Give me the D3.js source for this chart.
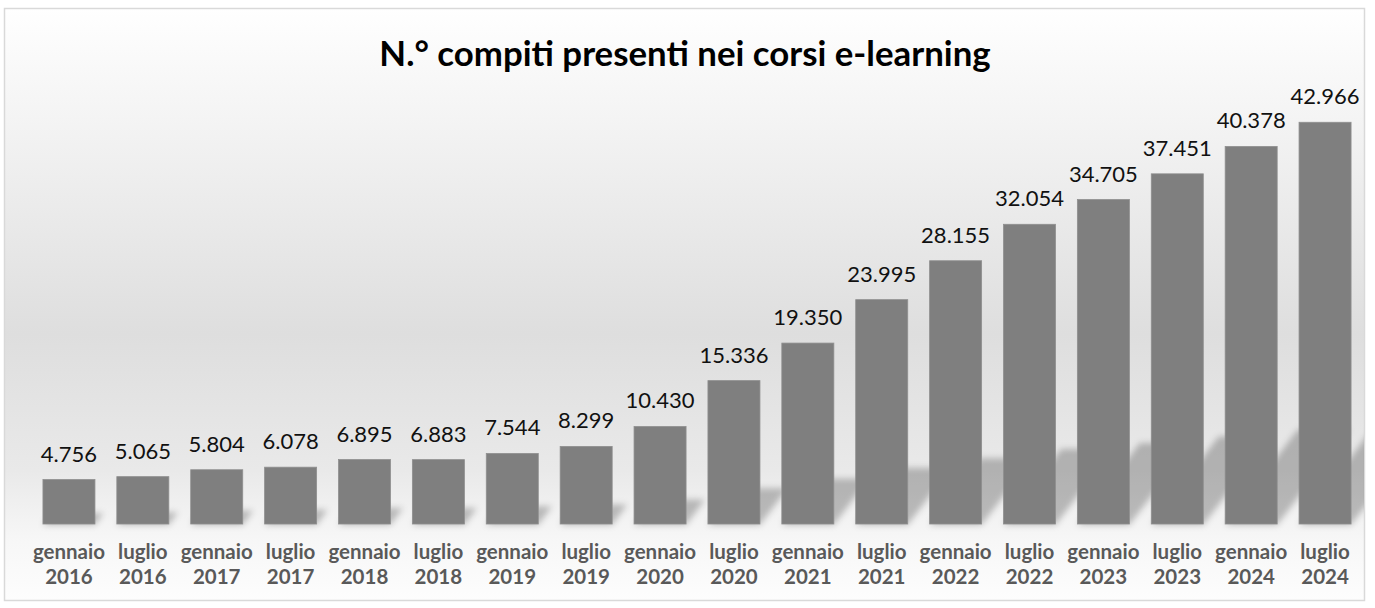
<!DOCTYPE html>
<html>
<head>
<meta charset="utf-8">
<script src="https://cdn.jsdelivr.net/npm/d3@7"></script>
<style>
  body { margin: 0; background: #fff; }
  svg { display: block; font-family: Lato, "Open Sans", sans-serif; }
</style>
</head>
<body>
<div id="chart"></div>
<script>
// data
const months = ["gennaio", "luglio", "gennaio", "luglio", "gennaio", "luglio", "gennaio", "luglio", "gennaio",
	"luglio", "gennaio", "luglio", "gennaio", "luglio", "gennaio", "luglio", "gennaio", "luglio"];
const years = ["2016", "2016", "2017", "2017", "2018", "2018", "2019", "2019", "2020",
	"2020", "2021", "2021", "2022", "2022", "2023", "2023", "2024", "2024"];
const values = [4756, 5065, 5804, 6078, 6895, 6883, 7544, 8299, 10430,
	15336, 19350, 23995, 28155, 32054, 34705, 37451, 40378, 42966];
const title = "N.° compiti presenti nei corsi e-learning";

const data = values.map((v, i) => ({ key: months[i] + " " + years[i], month: months[i], year: years[i], value: v }));

const width = 1375, height = 608;
const fmt = d3.formatLocale({ decimal: ",", thousands: ".", grouping: [3] }).format(",d");

const svg = d3.select("#chart").append("svg")
	.attr("width", width)
	.attr("height", height);

const defs = svg.append("defs");

// background gradient of the chart area
const grad = defs.append("linearGradient")
	.attr("id", "bg")
	.attr("x1", 0).attr("y1", 0).attr("x2", 0).attr("y2", 1);
grad.append("stop").attr("offset", "0%").attr("stop-color", "#ffffff");
grad.append("stop").attr("offset", "55%").attr("stop-color", "#dedede");
grad.append("stop").attr("offset", "78%").attr("stop-color", "#e9e9e9");
grad.append("stop").attr("offset", "90%").attr("stop-color", "#f7f7f7");
grad.append("stop").attr("offset", "100%").attr("stop-color", "#fdfdfd");

defs.append("filter")
	.attr("id", "blur")
	.attr("x", "-50%").attr("y", "-50%").attr("width", "200%").attr("height", "200%")
	.append("feGaussianBlur")
	.attr("stdDeviation", 3);

defs.append("clipPath")
	.attr("id", "clip")
	.append("rect")
	.attr("x", 5).attr("y", 9).attr("width", 1359).attr("height", 590);

// chart frame
svg.append("rect")
	.attr("x", 4.5).attr("y", 8.5)
	.attr("width", 1360).attr("height", 592)
	.attr("fill", "url(#bg)")
	.attr("stroke", "#d9d9d9")
	.attr("stroke-width", 1.5);

const x = d3.scaleBand()
	.domain(data.map(d => d.key))
	.range([32, 1362])
	.paddingInner(0.296)
	.paddingOuter(0.148);

const y = d3.scaleLinear()
	.domain([0, 50000])
	.range([524, 56.5]);

// perspective shadows behind the bars
const shadows = svg.append("g").attr("clip-path", "url(#clip)");
shadows.selectAll("path")
	.data(data)
	.enter()
	.append("path")
	.attr("d", d => {
		const x0 = x(d.key), x1 = x0 + x.bandwidth();
		const h = y(0) - y(d.value);
		const sh = h * 0.25, dx = sh / 1.3;
		return `M${x0},${y(0) + 1}L${x1},${y(0) + 1}L${x1 + dx},${y(0) - sh}L${x0 + dx},${y(0) - sh}Z`;
	})
	.attr("fill", "#000")
	.attr("fill-opacity", 0.24)
	.attr("filter", "url(#blur)");

// bars
svg.append("g").selectAll("rect")
	.data(data)
	.enter()
	.append("rect")
	.attr("x", d => x(d.key))
	.attr("y", d => y(d.value))
	.attr("width", x.bandwidth())
	.attr("height", d => y(0) - y(d.value))
	.attr("fill", "#7f7f7f")
	.attr("stroke", "#8f8f8f")
	.attr("stroke-width", 0.8);

// value labels
svg.append("g").selectAll("text")
	.data(data)
	.enter()
	.append("text")
	.attr("x", d => x(d.key) + x.bandwidth() / 2)
	.attr("y", d => y(d.value) - 18)
	.attr("text-anchor", "middle")
	.attr("font-size", 22)
	.attr("fill", "#111")
	.text(d => fmt(d.value));

// category axis (no line, no ticks)
const xAxis = svg.append("g")
	.attr("transform", `translate(0, ${y(0)})`)
	.call(d3.axisBottom(x).tickSize(0).tickFormat(""));
xAxis.select(".domain").remove();

const labels = svg.append("g").selectAll("text")
	.data(data)
	.enter()
	.append("text")
	.attr("text-anchor", "middle")
	.attr("font-size", 20.5)
	.attr("font-weight", "bold")
	.attr("fill", "#595959");
labels.append("tspan")
	.attr("x", d => x(d.key) + x.bandwidth() / 2)
	.attr("y", 559)
	.text(d => d.month);
labels.append("tspan")
	.attr("x", d => x(d.key) + x.bandwidth() / 2)
	.attr("y", 584)
	.text(d => d.year);

// title
svg.append("text")
	.attr("x", 685)
	.attr("y", 66)
	.attr("text-anchor", "middle")
	.attr("font-size", 34.8)
	.attr("font-weight", "bold")
	.attr("fill", "#000")
	.text(title);
</script>
</body>
</html>
